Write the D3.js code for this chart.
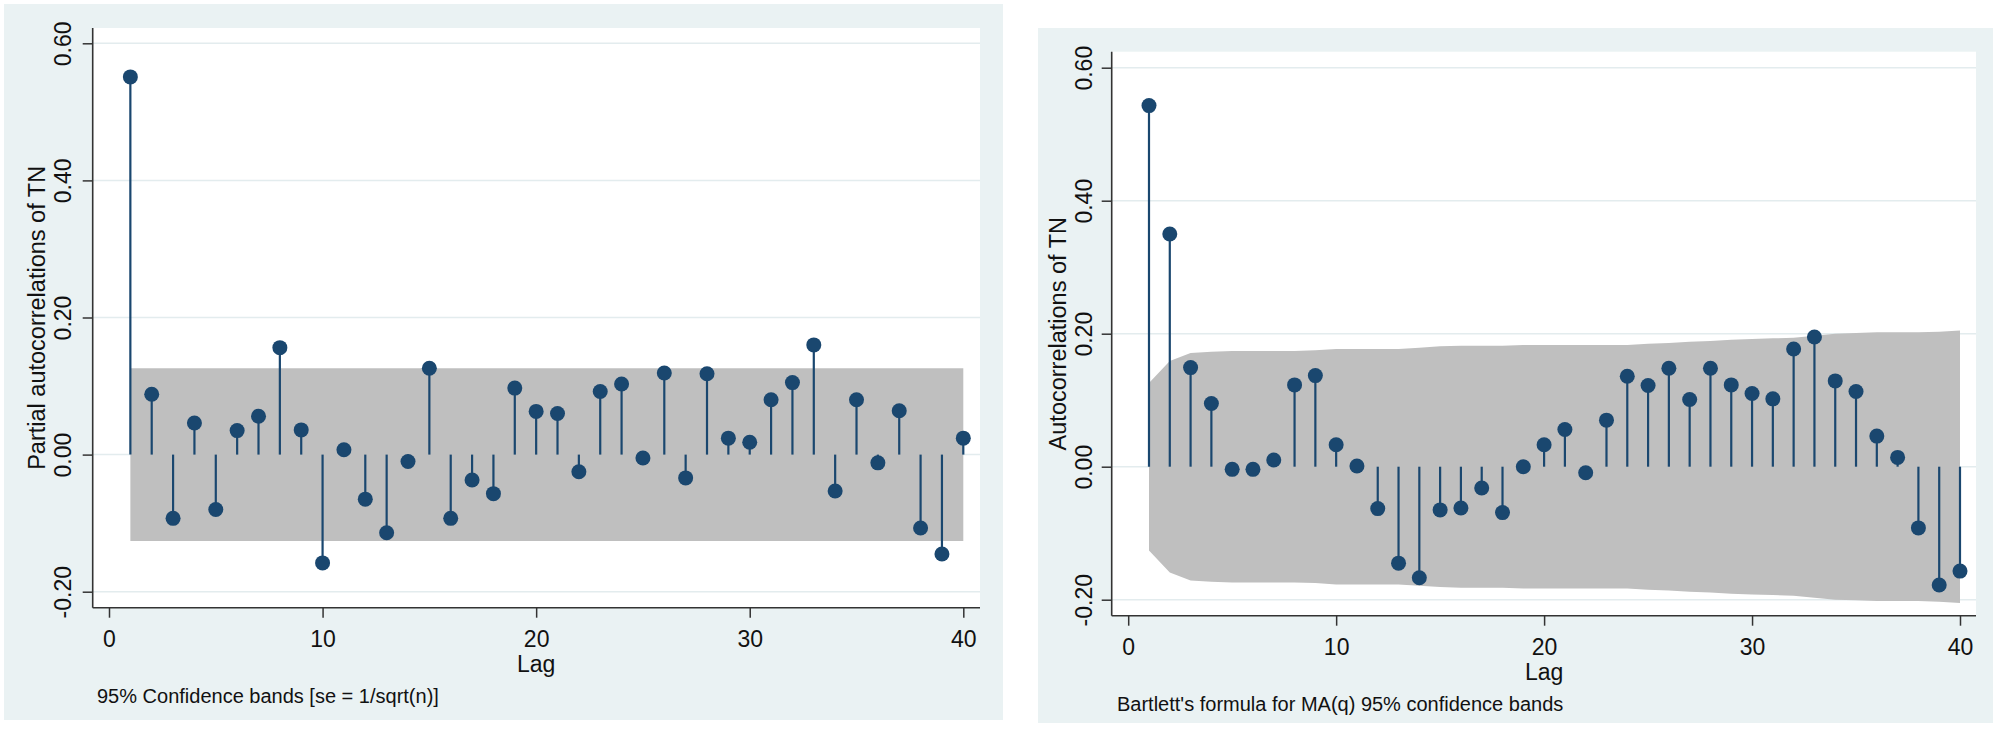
<!DOCTYPE html>
<html>
<head>
<meta charset="utf-8">
<script src="https://cdn.jsdelivr.net/npm/d3@7"></script>
<style>
  body { margin: 0; background: #ffffff; }
  svg text { font-family: "Liberation Sans", Arial, sans-serif; fill: #111; }
</style>
</head>
<body>
<div class="vis-corrgram"></div>
<script>
// lags shown on the x axis
const lags = [1, 2, 3, 4, 5, 6, 7, 8, 9, 10, 11, 12, 13, 14, 15, 16, 17, 18, 19, 20,
  21, 22, 23, 24, 25, 26, 27, 28, 29, 30, 31, 32, 33, 34, 35, 36, 37, 38, 39, 40];

// partial autocorrelations (left panel)
const pacfValues = [0.551, 0.088, -0.093, 0.046, -0.080, 0.035, 0.056, 0.156, 0.036, -0.158,
  0.007, -0.065, -0.114, -0.010, 0.126, -0.093, -0.037, -0.057, 0.097, 0.063,
  0.060, -0.025, 0.092, 0.103, -0.005, 0.119, -0.034, 0.118, 0.024, 0.018,
  0.080, 0.105, 0.160, -0.053, 0.080, -0.012, 0.064, -0.107, -0.145, 0.024];
// se = 1/sqrt(n) band, same half width at every lag
const pacfBand = [0.126, 0.126, 0.126, 0.126, 0.126, 0.126, 0.126, 0.126, 0.126, 0.126,
  0.126, 0.126, 0.126, 0.126, 0.126, 0.126, 0.126, 0.126, 0.126, 0.126,
  0.126, 0.126, 0.126, 0.126, 0.126, 0.126, 0.126, 0.126, 0.126, 0.126,
  0.126, 0.126, 0.126, 0.126, 0.126, 0.126, 0.126, 0.126, 0.126, 0.126];

// autocorrelations (right panel)
const acfValues = [0.543, 0.350, 0.149, 0.095, -0.004, -0.004, 0.010, 0.123, 0.137, 0.033,
  0.001, -0.063, -0.145, -0.167, -0.065, -0.062, -0.032, -0.069, 0.000, 0.033,
  0.056, -0.009, 0.070, 0.136, 0.122, 0.148, 0.101, 0.148, 0.123, 0.110,
  0.102, 0.177, 0.195, 0.129, 0.113, 0.046, 0.014, -0.092, -0.178, -0.157];
// Bartlett band half width per lag
const acfBand = [0.126, 0.159, 0.171, 0.173, 0.174, 0.174, 0.174, 0.174, 0.175, 0.177,
  0.177, 0.177, 0.177, 0.179, 0.181, 0.182, 0.182, 0.182, 0.183, 0.183,
  0.183, 0.183, 0.183, 0.183, 0.185, 0.186, 0.188, 0.189, 0.191, 0.192,
  0.193, 0.194, 0.197, 0.200, 0.201, 0.202, 0.202, 0.202, 0.203, 0.205];

const yTickValues = [-0.2, 0, 0.2, 0.4, 0.6];
const yTickLabels = ["-0.20", "0.00", "0.20", "0.40", "0.60"];
const xTickValues = [0, 10, 20, 30, 40];

const navy = "#1a476f";

const svg = d3
  .select(".vis-corrgram")
  .append("svg")
  .attr("width", 2000)
  .attr("height", 731);

const drawPanel = (p) => {
  let g = svg.append("g");

  // graph region + plot region
  g.append("rect")
    .attr("x", p.bg[0]).attr("y", p.bg[1])
    .attr("width", p.bg[2] - p.bg[0]).attr("height", p.bg[3] - p.bg[1])
    .attr("fill", "#eaf2f3");
  g.append("rect")
    .attr("x", p.plot[0]).attr("y", p.plot[1])
    .attr("width", p.plot[2] - p.plot[0]).attr("height", p.plot[3] - p.plot[1])
    .attr("fill", "#ffffff");

  let x = d3.scaleLinear().domain([0, 40]).range(p.xRange);
  let y = d3.scaleLinear().domain([-0.2, 0.6]).range(p.yRange);

  // grid lines
  g.selectAll(".grid")
    .data(yTickValues)
    .enter()
    .append("line")
    .attr("x1", p.plot[0]).attr("x2", p.plot[2])
    .attr("y1", (d) => y(d)).attr("y2", (d) => y(d))
    .attr("stroke", "#e3ecee")
    .attr("stroke-width", 1.5);

  // confidence band
  let rows = lags.map((l, i) => ({ lag: l, v: p.values[i], band: p.band[i] }));
  g.append("path")
    .datum(rows)
    .attr("fill", "#bfbfbf")
    .attr("d", d3.area()
      .x((d) => x(d.lag))
      .y0((d) => y(-d.band))
      .y1((d) => y(d.band)));

  // stems
  g.selectAll(".stem")
    .data(rows)
    .enter()
    .append("line")
    .attr("x1", (d) => x(d.lag)).attr("x2", (d) => x(d.lag))
    .attr("y1", y(0)).attr("y2", (d) => y(d.v))
    .attr("stroke", navy)
    .attr("stroke-width", 2.2);

  g.selectAll(".dot")
    .data(rows)
    .enter()
    .append("circle")
    .attr("cx", (d) => x(d.lag))
    .attr("cy", (d) => y(d.v))
    .attr("r", 7.5)
    .attr("fill", navy);

  // y axis
  let yAxis = g.append("g")
    .attr("transform", "translate(" + p.plot[0] + ",0)")
    .call(d3.axisLeft(y).tickValues(yTickValues)
      .tickFormat((d, i) => yTickLabels[i]).tickSize(10).tickSizeOuter(0));
  yAxis.select(".domain").remove();
  yAxis.selectAll("line").attr("stroke", "#333").attr("stroke-width", 1.5);
  yAxis.selectAll("text")
    .attr("x", 0).attr("dy", "0.35em")
    .attr("transform", "translate(" + (-p.yLabelOff) + ",0) rotate(-90)")
    .style("text-anchor", "middle")
    .style("font-size", "23px")
    .style("fill", "#111");

  // x axis
  let xAxis = g.append("g")
    .attr("transform", "translate(0," + p.plot[3] + ")")
    .call(d3.axisBottom(x).tickValues(xTickValues).tickSize(10).tickPadding(13).tickSizeOuter(0));
  xAxis.select(".domain").remove();
  xAxis.selectAll("line").attr("stroke", "#333").attr("stroke-width", 1.5);
  xAxis.selectAll("text")
    .style("font-size", "23px")
    .style("fill", "#111");

  // axis lines
  g.append("line")
    .attr("x1", p.plot[0]).attr("x2", p.plot[0])
    .attr("y1", p.plot[1]).attr("y2", p.plot[3])
    .attr("stroke", "#333").attr("stroke-width", 1.6);
  g.append("line")
    .attr("x1", p.plot[0]).attr("x2", p.plot[2])
    .attr("y1", p.plot[3]).attr("y2", p.plot[3])
    .attr("stroke", "#333").attr("stroke-width", 1.6);

  // titles
  g.append("text")
    .attr("x", x(20))
    .attr("y", p.plot[3] + 64)
    .style("text-anchor", "middle")
    .style("font-size", "23px")
    .text("Lag");

  g.append("text")
    .attr("transform", "translate(" + p.yTitleX + "," + (p.plot[1] + p.plot[3]) / 2 + ") rotate(-90)")
    .style("text-anchor", "middle")
    .style("font-size", "23.5px")
    .text(p.yTitle);

  g.append("text")
    .attr("x", p.noteX)
    .attr("y", p.plot[3] + 95)
    .style("font-size", "20px")
    .text(p.note);
};

drawPanel({
  bg: [4, 4, 1003, 720],
  plot: [92.7, 28, 980, 607.7],
  xRange: [109, 963.3],
  yRange: [591.7, 43.3],
  yLabelOff: 29.5,
  yTitleX: 45,
  noteX: 97,
  values: pacfValues,
  band: pacfBand,
  yTitle: "Partial autocorrelations of TN",
  note: "95% Confidence bands [se = 1/sqrt(n)]"
});

drawPanel({
  bg: [1038, 28, 1993, 723],
  plot: [1111.7, 51.7, 1976, 615.7],
  xRange: [1128.2, 1960],
  yRange: [599.7, 67.7],
  yLabelOff: 27.5,
  yTitleX: 1066,
  noteX: 1117,
  values: acfValues,
  band: acfBand,
  yTitle: "Autocorrelations of TN",
  note: "Bartlett's formula for MA(q) 95% confidence bands"
});
</script>
</body>
</html>
